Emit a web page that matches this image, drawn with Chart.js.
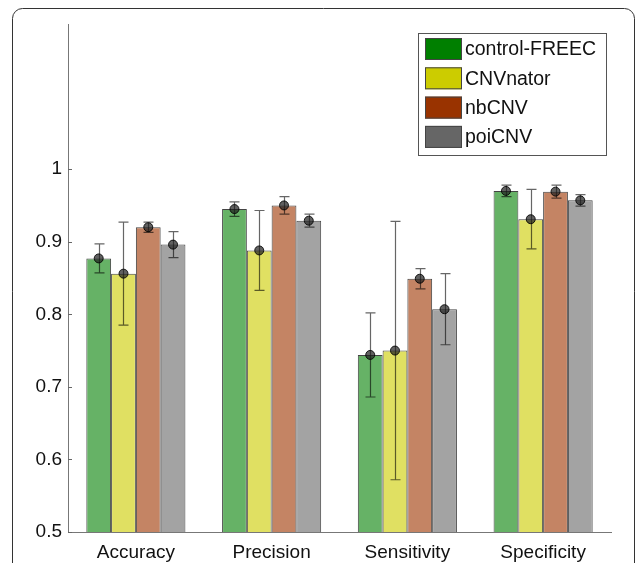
<!DOCTYPE html>
<html>
<head>
<meta charset="utf-8">
<script src="https://cdn.jsdelivr.net/npm/chart.js@4"></script>
<style>
  body { margin: 0; background: #fff; }
  #wrap { width: 637px; height: 563px; position: relative; }
</style>
</head>
<body>
<div id="wrap"><canvas id="grafico"></canvas></div>
<script>
const categorias = ["Accuracy", "Precision", "Sensitivity", "Specificity"];
const ticksY = [0.5, 0.6, 0.7, 0.8, 0.9, 1];

const freec = [0.877, 0.945, 0.744, 0.970];
const freecErr = [0.020, 0.010, 0.058, 0.008];
const cnvnator = [0.856, 0.888, 0.750, 0.931];
const cnvnatorErr = [0.071, 0.055, 0.178, 0.041];
const nbcnv = [0.920, 0.950, 0.849, 0.969];
const nbcnvErr = [0.007, 0.012, 0.014, 0.009];
const poicnv = [0.896, 0.929, 0.807, 0.957];
const poicnvErr = [0.018, 0.009, 0.049, 0.008];

const fonte = "'Liberation Sans', Arial, sans-serif";

// moldura arredondada
const moldura = {
    id: "moldura",
    beforeDraw(chart) {
        const ctx = chart.ctx;
        ctx.save();
        ctx.strokeStyle = "#333";
        ctx.lineWidth = 1;
        ctx.beginPath();
        ctx.roundRect(12.5, 8.5, 622, 620, 10);
        ctx.stroke();
        ctx.restore();
    }
};

// marcas do eixo y para dentro
const marcasY = {
    id: "marcasY",
    afterDraw(chart) {
        const ctx = chart.ctx, y = chart.scales.y, x0 = chart.chartArea.left;
        ctx.save();
        ctx.strokeStyle = "#666";
        ctx.lineWidth = 1;
        y.ticks.forEach(t => {
            const py = Math.round(y.getPixelForValue(t.value)) + 0.5;
            ctx.beginPath();
            ctx.moveTo(x0, py);
            ctx.lineTo(x0 + 4, py);
            ctx.stroke();
        });
        ctx.restore();
    }
};

// barras de erro e pontos
const barrasErro = {
    id: "barrasErro",
    afterDatasetsDraw(chart) {
        const ctx = chart.ctx, y = chart.scales.y;
        ctx.save();
        chart.data.datasets.forEach((ds, i) => {
            chart.getDatasetMeta(i).data.forEach((bar, j) => {
                const v = ds.data[j], e = ds.erro[j];
                const top = y.getPixelForValue(v + e), bot = y.getPixelForValue(v - e);
                const px = Math.round(bar.x) + 0.5;
                ctx.strokeStyle = "rgba(0,0,0,0.6)";
                ctx.lineWidth = 1.2;
                ctx.beginPath();
                ctx.moveTo(px, top); ctx.lineTo(px, bot);
                ctx.moveTo(px - 5, top); ctx.lineTo(px + 5, top);
                ctx.moveTo(px - 5, bot); ctx.lineTo(px + 5, bot);
                ctx.stroke();
                ctx.beginPath();
                ctx.arc(bar.x, y.getPixelForValue(v), 4.5, 0, Math.PI * 2);
                ctx.fillStyle = "rgba(30,30,30,0.7)";
                ctx.fill();
                ctx.strokeStyle = "rgba(0,0,0,0.85)";
                ctx.lineWidth = 1;
                ctx.stroke();
            });
        });
        ctx.restore();
    }
};

// legenda dentro do grafico
const legenda = {
    id: "legenda",
    afterDraw(chart) {
        const ctx = chart.ctx;
        ctx.save();
        ctx.fillStyle = "#fff";
        ctx.fillRect(418, 33, 188, 122);
        ctx.strokeStyle = "#555";
        ctx.lineWidth = 1;
        ctx.strokeRect(418.5, 33.5, 188, 122);
        ctx.font = "19.5px " + fonte;
        ctx.textBaseline = "middle";
        chart.data.datasets.forEach((ds, i) => {
            const cy = 49 + i * 29.3;
            ctx.fillStyle = ds.corLegenda;
            ctx.fillRect(425, cy - 11, 37, 22);
            ctx.strokeStyle = "#444";
            ctx.strokeRect(425.5, cy - 10.5, 36, 21);
            ctx.fillStyle = "#111";
            ctx.fillText(ds.label, 465, cy + 1);
        });
        ctx.restore();
    }
};

new Chart(document.getElementById("grafico"), {
    type: "bar",
    data: {
        labels: categorias,
        datasets: [
            { label: "control-FREEC", data: freec, erro: freecErr, backgroundColor: "rgb(102,178,102)", corLegenda: "#007f00" },
            { label: "CNVnator", data: cnvnator, erro: cnvnatorErr, backgroundColor: "rgb(224,224,98)", corLegenda: "#cccc00" },
            { label: "nbCNV", data: nbcnv, erro: nbcnvErr, backgroundColor: "rgb(196,132,100)", corLegenda: "#993300" },
            { label: "poiCNV", data: poicnv, erro: poicnvErr, backgroundColor: "rgb(163,163,163)", corLegenda: "#666666" }
        ].map(d => Object.assign(d, { borderColor: "#444", borderWidth: 1, categoryPercentage: 0.73, barPercentage: 1 }))
    },
    options: {
        responsive: true,
        maintainAspectRatio: false,
        animation: false,
        layout: { padding: { left: 0, top: 24, right: 26, bottom: 0 } },
        plugins: { legend: { display: false }, tooltip: { enabled: false } },
        scales: {
            x: {
                grid: { display: false, drawTicks: false },
                border: { color: "#777" },
                ticks: { color: "#111", font: { family: fonte, size: 19 }, padding: 9 },
                afterFit: s => { s.height = 31; }
            },
            y: {
                min: 0.5,
                max: 1.2,
                grid: { display: false, drawTicks: false },
                border: { color: "#777" },
                ticks: {
                    color: "#111",
                    font: { family: fonte, size: 19 },
                    padding: 6,
                    callback: v => (v === 1 ? "1" : v.toFixed(1))
                },
                afterBuildTicks: s => { s.ticks = ticksY.map(v => ({ value: v })); },
                afterFit: s => { s.width = 68; }
            }
        }
    },
    plugins: [moldura, marcasY, barrasErro, legenda]
});
</script>
</body>
</html>
